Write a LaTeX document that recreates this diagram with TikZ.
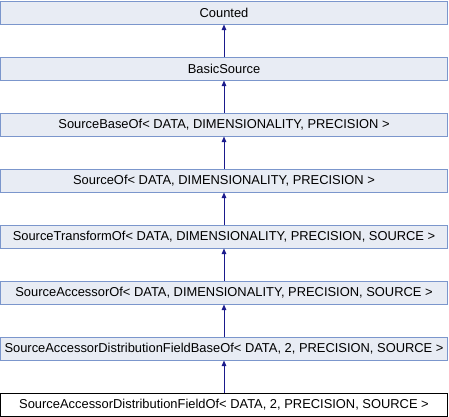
\documentclass[tikz,border=0pt]{standalone}
\usepackage{fontspec}
\setmainfont{Liberation Sans}
\usetikzlibrary{arrows.meta}
\definecolor{clsfill}{HTML}{E8ECF4}
\definecolor{clsedge}{HTML}{7B96CC}
\definecolor{inhline}{HTML}{1A1A8C}
\begin{document}
\begin{tikzpicture}[x=1pt,y=-1pt,
  cls/.style={draw=clsedge, fill=clsfill, line width=1pt, minimum width=447pt,
    minimum height=23pt, inner sep=0pt, font=\fontsize{12.9}{14}\selectfont, anchor=north},
  curcls/.style={cls, draw=black, fill=white},
  inh/.style={draw=inhline, line width=1pt, -{Triangle[width=4.5pt,length=5.5pt]}}]
\useasboundingbox (0,0) rectangle (449,416);
\node[cls] (n0) at (224,0.5) {Counted};
\node[cls] (n1) at (224,56.5) {BasicSource};
\node[cls] (n2) at (224,112.5) {SourceBaseOf< DATA, DIMENSIONALITY, PRECISION >};
\node[cls] (n3) at (224,168.5) {SourceOf< DATA, DIMENSIONALITY, PRECISION >};
\node[cls] (n4) at (224,224.5) {SourceTransformOf< DATA, DIMENSIONALITY, PRECISION, SOURCE >};
\node[cls] (n5) at (224,280.5) {SourceAccessorOf< DATA, DIMENSIONALITY, PRECISION, SOURCE >};
\node[cls] (n6) at (224,336.5) {SourceAccessorDistributionFieldBaseOf< DATA, 2, PRECISION, SOURCE >};
\node[curcls] (n7) at (224,392.5) {SourceAccessorDistributionFieldOf< DATA, 2, PRECISION, SOURCE >};
\foreach \c/\p in {n1/n0,n2/n1,n3/n2,n4/n3,n5/n4,n6/n5,n7/n6}
  \draw[inh] (\c.north) -- (\p.south);
\end{tikzpicture}
\end{document}
